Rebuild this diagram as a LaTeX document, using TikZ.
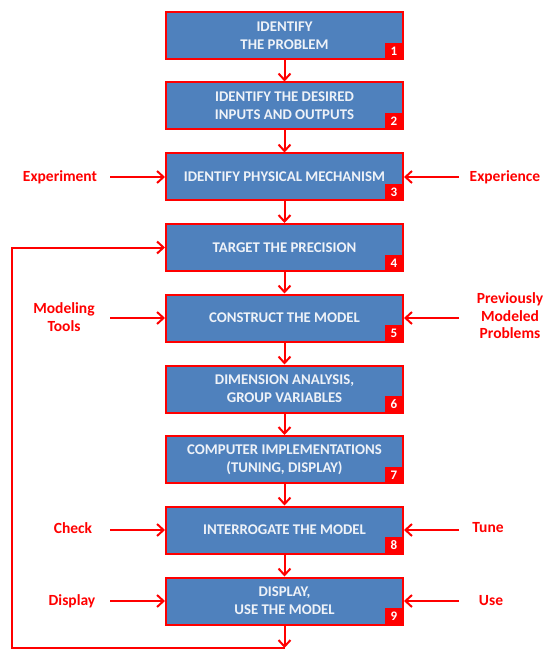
\documentclass[tikz,border=0pt]{standalone}
\usepackage{fontspec}
\setmainfont{Carlito}
\usetikzlibrary{arrows.meta}
\definecolor{boxblue}{HTML}{4F81BD}
\definecolor{boxtext}{HTML}{EEF2F8}
\tikzset{
  stepbox/.style={draw=red, line width=2pt, fill=boxblue, minimum width=237pt, minimum height=47pt,
    text=boxtext, font=\bfseries\fontsize{14.8}{18}\selectfont, align=center, inner sep=0pt},
  badge/.style={fill=red, text=white, font=\bfseries\fontsize{13}{14}\selectfont, minimum width=18pt, minimum height=16pt, inner sep=0pt, anchor=south east},
  flow/.style={draw=red, line width=2pt, -{Straight Barb[length=6.5pt,width=12pt,line width=2pt]}},
  lbl/.style={text=red, font=\bfseries\fontsize{15.5}{17.5}\selectfont, align=center, inner sep=0pt}
}
\begin{document}
\begin{tikzpicture}[x=1pt,y=-1pt]
\useasboundingbox (0,0) rectangle (543,652);
\node[stepbox] (b1) at (284.5,35.5) {IDENTIFY\\THE PROBLEM};
\node[stepbox] (b2) at (284.5,106) {IDENTIFY THE DESIRED\\INPUTS AND OUTPUTS};
\node[stepbox] (b3) at (284.5,177) {IDENTIFY PHYSICAL MECHANISM};
\node[stepbox] (b4) at (284.5,247.5) {TARGET THE PRECISION};
\node[stepbox] (b5) at (284.5,318) {CONSTRUCT THE MODEL};
\node[stepbox] (b6) at (284.5,389) {DIMENSION ANALYSIS,\\GROUP VARIABLES};
\node[stepbox] (b7) at (284.5,459.5) {COMPUTER IMPLEMENTATIONS\\(TUNING, DISPLAY)};
\node[stepbox] (b8) at (284.5,530) {INTERROGATE THE MODEL};
\node[stepbox] (b9) at (284.5,601) {DISPLAY,\\USE THE MODEL};
\foreach \i in {1,...,9} {
  \node[badge] (n\i) at ([xshift=-1pt,yshift=1pt]b\i.south east) {\i};
}
\foreach \a/\b in {1/2,2/3,3/4,4/5,5/6,6/7,7/8,8/9} {
  \draw[flow] (b\a.south) -- (b\b.north);
}
\coordinate (bot) at (284.5,648);
\coordinate (corner) at (12,648);
\draw[flow] (b9.south) -- (bot);
\draw[flow] (bot) -- (corner) |- (b4.west);
% side inputs
\node[lbl] (exp1) at (60,177) {Experiment};
\node[lbl] (exp2) at (505,177) {Experience};
\node[lbl] (mt) at (64,317) {Modeling\\Tools};
\node[lbl] (pmp) at (510,316) {Previously\\Modeled\\Problems};
\node[lbl] (chk) at (73,528) {Check};
\node[lbl] (tune) at (488,528) {Tune};
\node[lbl] (disp) at (72,601) {Display};
\node[lbl] (use) at (491,601) {Use};
\coordinate (l3) at (110,177); \coordinate (r3) at (459,177);
\coordinate (l5) at (110,318); \coordinate (r5) at (459,318);
\coordinate (l8) at (110,530); \coordinate (r8) at (459,530);
\coordinate (l9) at (110,601); \coordinate (r9) at (459,601);
\draw[flow] (l3) -- (b3.west);
\draw[flow] (r3) -- (b3.east);
\draw[flow] (l5) -- (b5.west);
\draw[flow] (r5) -- (b5.east);
\draw[flow] (l8) -- (b8.west);
\draw[flow] (r8) -- (b8.east);
\draw[flow] (l9) -- (b9.west);
\draw[flow] (r9) -- (b9.east);
\end{tikzpicture}
\end{document}
